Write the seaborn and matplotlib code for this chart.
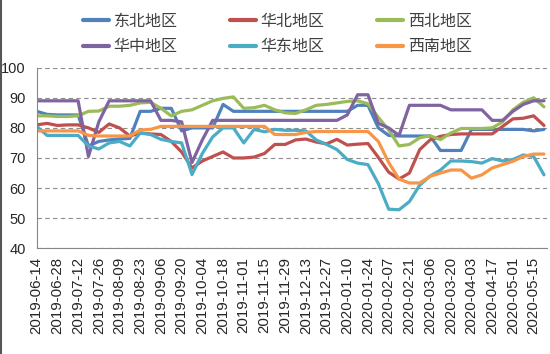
import pandas as pd
import matplotlib.pyplot as plt
import matplotlib.dates as mdates
from matplotlib.lines import Line2D
import seaborn as sns

# weekly observations, 2019-06-14 .. 2020-05-22
weeks = pd.date_range('2019-06-14', periods=50, freq='7D')
regions = ['东北地区', '华北地区', '西北地区', '华中地区', '华东地区', '西南地区']
colors = ['#4F81BD', '#C0504D', '#9BBB59', '#8064A2', '#4BACC6', '#F79646']

dongbei = [85.5, 84.5, 84.3, 84.3, 84.3, 74.0, 75.5, 76.0, 76.3, 76.5,
           85.5, 85.5, 86.5, 86.5, 79.0, 80.0, 80.0, 80.0, 87.8, 85.5,
           85.5, 85.5, 85.5, 85.5, 85.5, 85.5, 85.5, 85.5, 85.5, 85.5,
           85.5, 87.5, 87.5, 80.0, 77.5, 77.3, 77.3, 77.3, 77.3, 72.5,
           72.5, 72.5, 79.5, 79.5, 79.5, 79.5, 79.5, 79.5, 79.0, 79.5]
huabei = [81.0, 81.5, 80.8, 81.0, 81.0, 80.0, 78.5, 81.3, 80.0, 77.3,
          78.3, 78.0, 77.8, 75.5, 72.0, 66.7, 69.0, 70.5, 72.0, 70.0,
          70.0, 70.3, 71.5, 74.5, 74.5, 76.0, 76.3, 75.3, 74.7, 76.2,
          74.3, 74.6, 74.8, 70.2, 65.3, 63.0, 65.0, 72.8, 76.0, 77.2,
          77.8, 78.0, 78.0, 78.0, 78.0, 80.5, 83.0, 83.2, 84.0, 80.8]
xibei = [84.0, 84.0, 83.8, 83.8, 84.0, 85.5, 85.6, 87.2, 87.2, 87.5,
         88.3, 88.5, 86.5, 84.0, 85.5, 86.0, 87.5, 89.0, 89.8, 90.3,
         86.5, 86.7, 87.5, 86.0, 85.0, 84.8, 86.0, 87.5, 87.8, 88.3,
         88.8, 89.0, 88.0, 83.5, 79.3, 74.0, 74.5, 76.7, 77.4, 76.1,
         78.3, 79.8, 79.8, 79.8, 80.0, 82.0, 86.0, 88.5, 90.0, 87.0]
huazhong = [89.0, 89.0, 89.0, 89.0, 89.0, 70.5, 82.0, 89.0, 89.0, 89.0,
            89.0, 89.0, 82.5, 82.5, 82.0, 68.5, 76.0, 82.5, 82.5, 82.5,
            82.5, 82.5, 82.5, 82.5, 82.5, 82.5, 82.5, 82.5, 82.5, 82.5,
            84.3, 91.0, 91.0, 81.5, 80.0, 77.5, 87.5, 87.5, 87.5, 87.5,
            86.0, 86.0, 86.0, 86.0, 82.5, 82.5, 85.5, 87.8, 89.0, 89.0]
huadong = [80.5, 77.5, 77.5, 77.5, 77.5, 74.0, 73.0, 75.0, 75.5, 74.0,
           78.3, 77.8, 76.2, 75.5, 75.0, 64.5, 71.5, 77.0, 80.0, 80.0,
           75.0, 79.5, 78.7, 79.5, 79.2, 79.2, 79.0, 76.0, 74.5, 72.8,
           69.5, 68.3, 67.8, 61.5, 53.0, 52.8, 55.5, 61.0, 64.0, 66.0,
           69.0, 69.0, 68.8, 68.3, 69.8, 69.0, 69.5, 71.0, 70.5, 64.4]
xinan = [79.0, 79.0, 79.0, 79.0, 79.0, 77.5, 77.3, 77.3, 77.3, 77.3,
         79.3, 79.5, 80.5, 80.5, 80.5, 80.5, 80.5, 80.5, 80.5, 80.5,
         80.5, 80.5, 80.5, 77.8, 77.8, 77.8, 78.5, 78.8, 78.8, 78.8,
         78.8, 78.8, 78.8, 75.5, 68.5, 63.0, 61.7, 61.7, 63.9, 65.0,
         66.0, 66.0, 63.3, 64.4, 66.7, 67.8, 68.9, 70.5, 71.3, 71.3]

wide = pd.DataFrame({'date': weeks, '东北地区': dongbei, '华北地区': huabei,
                     '西北地区': xibei, '华中地区': huazhong,
                     '华东地区': huadong, '西南地区': xinan})
df = wide.melt(id_vars='date', var_name='region', value_name='value')

sns.set_theme(style='white')
plt.rcParams['font.family'] = ['Liberation Sans', 'Noto Sans CJK SC']

fig = plt.figure(figsize=(5.5, 3.54), dpi=100)
ax = fig.add_axes([0.0667, 0.2986, 0.928, 0.5102])

sns.lineplot(data=df, x='date', y='value', hue='region', hue_order=regions,
             palette=colors, linewidth=2.3, estimator=None, ax=ax)

ax.set_ylim(40, 100)
ax.set_yticks(range(40, 101, 10))
ax.set_xlim(weeks[0], weeks[0] + pd.Timedelta(weeks=49.3))
ax.set_xticks(weeks[::2])
ax.xaxis.set_major_formatter(mdates.DateFormatter('%Y-%m-%d'))
ax.set_xlabel('')
ax.set_ylabel('')

ax.grid(axis='y', color='#8c8c8c', linestyle=(0, (4, 3)), linewidth=0.8)
ax.set_axisbelow(True)
for s in ['top', 'right']:
    ax.spines[s].set_visible(False)
for s in ['left', 'bottom']:
    ax.spines[s].set_color('#868686')
    ax.spines[s].set_linewidth(0.8)
ax.tick_params(axis='x', direction='out', length=4, width=0.8, color='#868686',
               labelsize=10.8, labelrotation=90, pad=2)
ax.tick_params(axis='y', direction='out', length=3, width=0.8, color='#868686',
               labelsize=10.5, pad=5)

handles, labels = ax.get_legend_handles_labels()
ax.get_legend().remove()
order = [0, 3, 1, 4, 2, 5]
leg = fig.legend([handles[i] for i in order], [labels[i] for i in order],
                 loc='upper left', bbox_to_anchor=(0.125, 1.005), ncol=3,
                 frameon=False, prop={'family': ['Noto Sans CJK SC'], 'size': 11.5},
                 handlelength=1.6, handletextpad=0.3, columnspacing=3.3,
                 labelspacing=0.55)
for h in leg.get_lines():
    h.set_linewidth(3)
for t in leg.get_texts():
    t.set_color('#404040')

fig.add_artist(Line2D([0.002, 0.002], [0, 1], color='#555555', linewidth=1.5))

fig.savefig('out.png', dpi=100)
